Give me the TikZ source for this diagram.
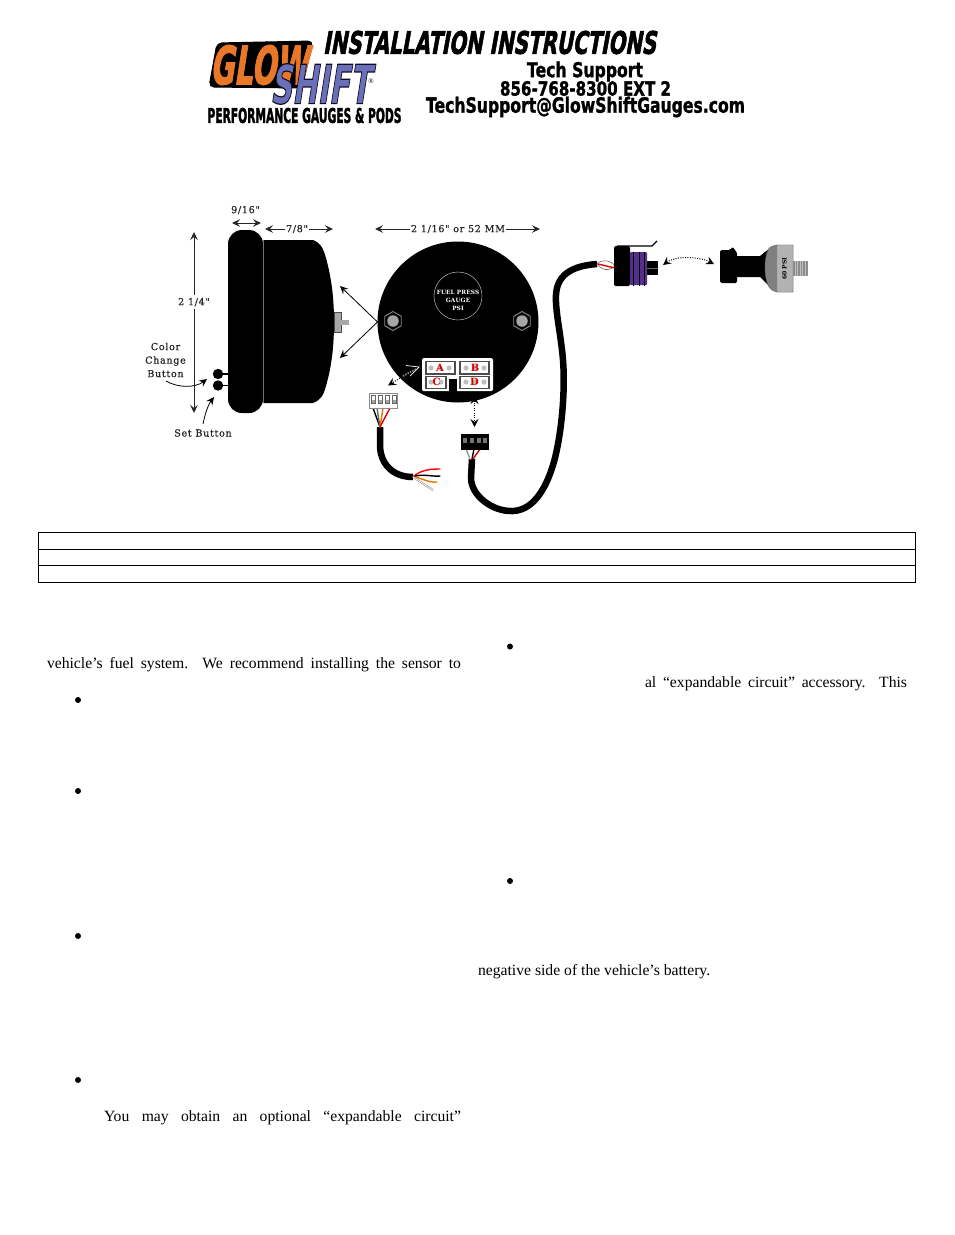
\documentclass[tikz,border=0pt]{standalone}
\usepackage{fontspec}
\usetikzlibrary{arrows.meta,shapes.geometric}
\setmainfont{Liberation Serif}
\newfontfamily\diafont[LetterSpace=7,FakeBold=0.6]{DejaVu Serif}
\newfontfamily\diabold[LetterSpace=2]{DejaVu Serif Bold}
\newfontfamily\logofont{DejaVu Sans Bold}[FakeSlant=0.28]
\newfontfamily\logoup{DejaVu Sans Bold}
\newcommand{\outl}[3]{\special{pdf:code 2 Tr #2 w #1 RG}#3\special{pdf:code 0 Tr}}
\definecolor{glowor}{HTML}{E8772A}
\definecolor{shiftbl}{HTML}{6A70B8}
\definecolor{plugpur}{HTML}{55308A}
\definecolor{midgray}{HTML}{A8A8A8}
\tikzset{
  every node/.style={inner sep=0pt,outer sep=0pt},
  dimarrow/.style={draw=black!85,line width=.9pt,{Stealth[length=8pt,width=7.5pt,inset=3pt]}-{Stealth[length=8pt,width=7.5pt,inset=3pt]}},
  onearrow/.style={draw=black,line width=.8pt,-{Stealth[length=8pt,width=7.5pt,inset=3pt]}},
  dotarrow/.style={draw=black,line width=1pt,dash pattern=on 1pt off 1.4pt,{Stealth[length=8pt,width=8pt,inset=3pt]}-{Stealth[length=8pt,width=8pt,inset=3pt]}},
  dia/.style={font=\diafont\fontsize{9.6}{11}\selectfont,text=black!85,align=center},
  cable/.style={draw=black,line width=6.5pt,line cap=round,line join=round},
  wire/.style={line width=1.4pt,line cap=round},
  bodytext/.style={font=\fontsize{15.67}{18}\selectfont,anchor=base west},
  bullet/.style={circle,fill=black,minimum size=6pt},
  socket/.style={draw=black!70,line width=1.3pt,fill=white},
  socklet/.style={font=\diabold\fontsize{10}{10}\selectfont,text=red!85!black},
  nut/.style={regular polygon,regular polygon sides=6,shape border rotate=30,draw=black!45,fill=black,line width=.9pt,minimum size=19pt},
  nutcore/.style={circle,fill=black!35,minimum size=11.5pt},
  rule/.style={draw=black,line width=.9pt},
}
\begin{document}
\begin{tikzpicture}[x=1pt,y=-1pt]
\useasboundingbox (0,0) rectangle (954,1235);
\fill[white] (0,0) rectangle (954,1235);

% ---------- logo ----------
\fill[black,rounded corners=5pt,draw=black,line width=1pt] (217,43) -- (313,41) -- (302,88) -- (209,87) -- cycle;
\node (glow) at (259,65) {\resizebox{98pt}{39pt}{\logofont\color{glowor}\outl{.91 .47 .16}{.25}{GLOW}}};
\node (shift) at (320,84) {\resizebox{100pt}{40pt}{\logofont\color{shiftbl}\outl{.05 .05 .15}{.22}{SHIFT}}};
\node (reg) at (371,81) {\fontsize{7}{7}\selectfont ®};
\node (perf) at (304.5,115.5) {\resizebox{194pt}{15pt}{\logoup\outl{0 0 0}{.25}{PERFORMANCE GAUGES \& PODS}}};
\node (title) at (489.5,42.5) {\resizebox{333pt}{23pt}{\logofont\outl{0 0 0}{.25}{INSTALLATION INSTRUCTIONS}}};
\node (tech) at (585,71.5) {\resizebox{116pt}{15.5pt}{\logoup\outl{0 0 0}{.15}{Tech Support}}};
\node (phone) at (585.5,88.5) {\resizebox{171pt}{14.5pt}{\logoup\outl{0 0 0}{.15}{856-768-8300 EXT 2}}};
\node (mail) at (585.5,107) {\resizebox{319pt}{16pt}{\logoup\outl{0 0 0}{.15}{TechSupport@GlowShiftGauges.com}}};

% ---------- side view ----------
\fill[black] (263,240) -- (313,240) .. controls (320,243) and (323,247) .. (326,258)
  .. controls (332,280) and (334,300) .. (334,322)
  .. controls (334,345) and (332,365) .. (326,386)
  .. controls (323,397) and (320,400) .. (313,403) -- (263,403) -- cycle;
\fill[black,rounded corners=14pt] (228,230) rectangle (263,413);
\draw[black!55,line width=.6pt] (263,240) -- (263,403);
\fill[midgray,draw=black!70,line width=.4pt] (334,312) rectangle (341,332);
\fill[midgray] (341,320) rectangle (349,325);
\foreach \yy in {374,385.5}{
  \fill[black] (218,\yy) circle (5.2pt);
  \draw[black,line width=1.3pt] (218,\yy) -- (228,\yy);
}
\coordinate (hT) at (194,232); \coordinate (hB) at (194,413);
\draw[dimarrow] (hT) -- (hB);
\node[dia,fill=white,inner ysep=3pt] (hlab) at (194,302) {2 1/4"};
\coordinate (wL) at (232,223); \coordinate (wR) at (261,223);
\draw[dimarrow] (wL) -- (wR);
\node[dia] (wlab) at (245.5,210) {9/16"};
\coordinate (dL) at (265,229); \coordinate (dR) at (333,229);
\draw[dimarrow] (dL) -- (dR);
\node[dia,fill=white,inner xsep=1pt] (dlab) at (297,229) {7/8"};
\coordinate (fL) at (375,229); \coordinate (fR) at (540,229);
\draw[dimarrow] (fL) -- (fR);
\node[dia,fill=white,inner xsep=1pt] (flab) at (458,229) {2 1/16" or 52 MM};
\node[dia] (ccb) at (165.5,360) {Color\\[2.5pt]Change\\[2.5pt]Button};
\node[dia] (setb) at (203,433) {Set Button};
\coordinate (cs) at (166,381); \coordinate (ce) at (207,379);
\draw[onearrow] (cs) .. controls (178,388) and (195,388) .. (ce);
\coordinate (ss) at (203,424); \coordinate (se) at (214,397);
\draw[onearrow] (ss) .. controls (205,414) and (208,405) .. (se);

% ---------- front view ----------
\node[circle,fill=black,minimum size=161pt] (gauge) at (458,322) {};
\coordinate (ap) at (377.5,322); \coordinate (au) at (340,286); \coordinate (ad) at (340,358);
\draw[onearrow] (ap) -- (au);
\draw[onearrow] (ap) -- (ad);
\node[circle,draw=black!15,line width=.4pt,minimum size=48pt] (dial) at (458,296) {};
\node[font=\diabold\fontsize{5.8}{8}\selectfont,text=white,align=center] (dialtxt) at (458,300) {FUEL PRESS\\GAUGE\\PSI};
\node[nut] (nutL) at (393,321) {}; \node[nutcore] (coreL) at (393,321) {};
\node[nut] (nutR) at (522,321) {}; \node[nutcore] (coreR) at (522,321) {};

% socket panel
\fill[white,rounded corners=1.5pt] (422,358) rectangle (493,391);
\fill[black] (449,378.5) rectangle (457,392) ;
\draw[socket] (426,361.5) rectangle (455,374);
\draw[socket] (460,361.5) rectangle (489,374);
\draw[socket] (426,376.5) rectangle (446,388.5);
\draw[socket] (460,376.5) rectangle (489,388.5);
\foreach \xx/\yy in {431/368,440/368,449/368,466/368,475/368,484/368,431/382,441/382,466/382,475/382,484/382}{
  \fill[black!25] (\xx,\yy) circle (2.6pt);
}
\node[socklet] (lA) at (440,368) {A};
\node[socklet] (lB) at (475,368) {B};
\node[socklet] (lC) at (436.5,382) {C};
\node[socklet] (lD) at (474.5,382) {D};

% dotted arrow to left plug
\coordinate (pa) at (419,367); \coordinate (pb) at (388,385.5);
\draw[black!45,line width=1.8pt,dash pattern=on 1.5pt off 1.2pt] (416,369) -- (403,376);
\draw[draw=black,line width=1pt,dash pattern=on 1pt off 1.4pt,-{Stealth[length=8pt,width=8pt,inset=3pt]}] (402,377) -- (pb);
\draw[white,line width=.7pt,line join=miter] (406,365.5) -- (pa) -- (410,376);

% left plug
\coordinate (lp1) at (380,427);
\draw[cable,line cap=butt] (lp1) -- (380,445) .. controls (380,463) and (392,477) .. (413,477);
\draw[wire,black] (373,408) -- (380,427);
\draw[wire,black!60] (377,408) -- (380,427);
\draw[wire,orange!90!black] (383,408) -- (380,427);
\draw[wire,red!85!black] (390,408) -- (380,427);
\draw[wire,red] (413,477) .. controls (420,470) and (430,469) .. (440,469);
\draw[wire,black] (413,477) .. controls (422,473) and (432,477) .. (440,476);
\draw[wire,orange!90!black] (413,477) .. controls (420,477) and (428,483) .. (437,482);
\draw[line width=1.8pt,black!50] (413,477) -- (433,490);
\draw[line width=.8pt,white] (413,477) -- (433,490);
\fill[white,draw=black!45,line width=.8pt] (369.5,393.5) rectangle (397.5,408);
\foreach \xx in {372,379,386,393}{
  \draw[black!60,line width=.8pt,fill=white] (\xx-1,395.5) rectangle (\xx+3.5,403);
  \fill[black!35] (\xx,400) rectangle (\xx+2.5,403);
}

% black plug and long cable
\coordinate (bp1) at (472,459);
\coordinate (cb) at (597,264);
\draw[cable,line cap=butt] (bp1) -- (471,478) .. controls (471,495) and (492,512) .. (513,511)
  .. controls (535,510) and (548,485) .. (555,458)
  .. controls (563,425) and (565,385) .. (563,360)
  .. controls (561,335) and (555,310) .. (556,295)
  .. controls (557,276) and (570,266) .. (cb);
\draw[wire,black!40] (466,449) -- (470,459);
\draw[wire,white] (470,449) -- (471,459);
\draw[wire,black] (474,449) -- (472,459);
\draw[wire,red!85!black] (480,449) -- (473,459);
\fill[black] (461,434) rectangle (488.5,449.5);
\foreach \xx in {463,470,477,483}{
  \fill[black!55] (\xx,438) rectangle (\xx+3.5,442.5);
}
\coordinate (da) at (474.5,396); \coordinate (db) at (474.5,427);
\draw[dotarrow] (da) -- (db);

% ---------- sensor plug ----------
\draw[black!60,line width=.6pt,fill=white] (597,263.5) .. controls (603,259) and (611,260) .. (615,266) .. controls (608,272) and (601,270) .. (597,263.5);
\draw[red!90!black,line width=1.4pt] (598,264) -- (615,268);
\fill[black,rounded corners=1.5pt] (614,246) rectangle (630,286);
\fill[plugpur,rounded corners=1pt] (630,252) rectangle (647,285);
\foreach \xx in {633.5,639,644.5}{
  \draw[black,line width=.8pt] (\xx,251.5) -- (\xx,285.5);
}
\fill[black] (647,261) rectangle (658,275);
\draw[black!60,line width=.5pt] (647,268.5) -- (658,268.5);
\draw[black,line width=1.1pt] (617,246) -- (652,246) -- (657,241);
\coordinate (ar1) at (663,265); \coordinate (ar2) at (714,264);
\draw[dotarrow] (ar1) .. controls (675,256) and (698,256) .. (ar2);

% ---------- sensor ----------
\fill[black,rounded corners=1.5pt] (720,250) -- (730,250) -- (733,246.5) -- (734.5,250) -- (737,252) -- (737,283) -- (720,283) -- cycle;
\fill[black] (737,256) -- (760,256) -- (770,248) -- (770,287) -- (760,277) -- (737,277) -- cycle;
\fill[black!50,draw=black!60,line width=.4pt] (777,245) -- (793,245) -- (793,292) -- (777,292) .. controls (772,291) and (769,288) .. (768,285)
  .. controls (764,275) and (764,260) .. (768,250) .. controls (769,247) and (772,246) .. cycle;
\fill[black!30,draw=black!50,line width=.4pt,rounded corners=1pt] (777,245) rectangle (793,292);
\fill[black!45] (793,261) rectangle (808,276);
\foreach \xx in {795,797.5,...,807}{
  \draw[black!25,line width=.6pt] (\xx,261) -- (\xx,276);
}
\node[rotate=90,font=\diabold\fontsize{6}{6}\selectfont,text=black] (psi) at (784.5,268.5) {60 PSI};

% ---------- table ----------
\draw[rule] (38.5,532.5) rectangle (915.5,582.5);
\draw[rule] (38.5,549.5) -- (915.5,549.5);
\draw[rule] (38.5,565.5) -- (915.5,565.5);

% ---------- body text ----------
\node[bodytext] (t1) at (47,668) {\makebox[414pt][s]{vehicle’s fuel system.  We recommend installing the sensor to}};
\node[bodytext] (t2) at (645,687) {\makebox[262pt][s]{al “expandable circuit” accessory. This}};
\node[bodytext] (t3) at (478,975) {negative side of the vehicle’s battery.};
\node[bodytext] (t4) at (104,1121) {\makebox[357pt][s]{You may obtain an optional “expandable circuit”}};
\foreach \nm/\xx/\yy in {b1/78/700,b2/78/791,b3/78/936,b4/78/1080,b5/510/646.5,b6/510/881}{
  \node[bullet] (\nm) at (\xx,\yy) {};
}
\end{tikzpicture}
\end{document}
